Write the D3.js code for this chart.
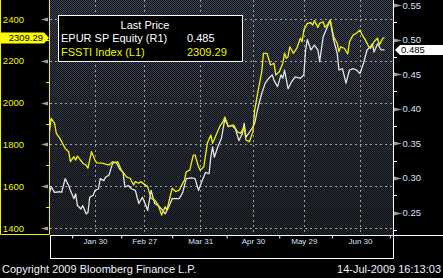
<!DOCTYPE html>
<html>
<head>
<meta charset="utf-8">
<script src="https://cdn.jsdelivr.net/npm/d3@7"></script>
<style>
  html, body { margin: 0; padding: 0; background: #000; }
  svg { display: block; font-family: 'Liberation Sans', Arial, sans-serif; }
</style>
</head>
<body>
<div id="chart"></div>
<script>
// FSSTI Index (left axis), daily-ish closes
const fsstiDates = [
  '01-04', '01-05', '01-07', '01-08', '01-10', '01-11', '01-13', '01-14', '01-15', '01-16',
  '01-18', '01-19', '01-20', '01-22', '01-23', '01-25', '01-26', '01-28', '01-30', '01-31',
  '02-03', '02-05', '02-07', '02-09', '02-11', '02-12', '02-14', '02-17', '02-19', '02-21',
  '02-22', '02-24', '02-25', '02-27', '03-01', '03-03', '03-05', '03-07', '03-09', '03-11',
  '03-12', '03-14', '03-15', '03-17', '03-19', '03-20', '03-22', '03-23', '03-25', '03-27',
  '03-28', '03-30', '03-31', '04-02', '04-04', '04-06', '04-07', '04-09', '04-11', '04-13',
  '04-14', '04-16', '04-19', '04-21', '04-23', '04-25', '04-26', '04-28', '04-30', '05-01',
  '05-03', '05-05', '05-06', '05-08', '05-10', '05-12', '05-13', '05-15', '05-17', '05-18',
  '05-19', '05-20', '05-21', '05-23', '05-25', '05-27', '05-28', '05-29', '05-31', '06-02',
  '06-03', '06-04', '06-06', '06-07', '06-09', '06-10', '06-12', '06-13', '06-15', '06-17',
  '06-18', '06-19', '06-21', '06-23', '06-24', '06-26', '06-28', '06-30', '07-01', '07-03',
  '07-05', '07-06', '07-08', '07-10', '07-11', '07-13', '07-14'
];
const fsstiValues = [
  1853, 1925, 1901, 1853, 1829, 1813, 1781, 1773, 1765, 1717,
  1741, 1725, 1744, 1722, 1710, 1701, 1686, 1765, 1725, 1712,
  1710, 1706, 1701, 1717, 1712, 1717, 1677, 1645, 1638, 1606,
  1622, 1614, 1622, 1610, 1598, 1542, 1534, 1510, 1462, 1502,
  1486, 1558, 1590, 1574, 1582, 1598, 1630, 1669, 1677, 1749,
  1749, 1693, 1677, 1693, 1805, 1845, 1805, 1845, 1885, 1909,
  1931, 1885, 1893, 1861, 1853, 1885, 1821, 1813, 1861, 1965,
  2060, 2148, 2236, 2236, 2180, 2188, 2132, 2148, 2188, 2236,
  2212, 2220, 2267, 2236, 2260, 2308, 2291, 2347, 2379, 2382,
  2371, 2392, 2360, 2379, 2387, 2360, 2379, 2395, 2315, 2284,
  2244, 2267, 2260, 2233, 2291, 2323, 2332, 2347, 2328, 2300,
  2267, 2260, 2291, 2308, 2276, 2308, 2309.29
];

// EPUR SP Equity (right axis)
const epurDates = [
  '01-04', '01-05', '01-07', '01-10', '01-11', '01-13', '01-15', '01-16', '01-18', '01-19',
  '01-20', '01-22', '01-23', '01-25', '01-26', '01-27', '01-29', '01-30', '02-01', '02-02',
  '02-04', '02-05', '02-07', '02-09', '02-11', '02-13', '02-15', '02-16', '02-18', '02-20',
  '02-22', '02-23', '02-24', '02-26', '02-28', '03-01', '03-03', '03-05', '03-07', '03-09',
  '03-11', '03-13', '03-15', '03-18', '03-19', '03-21', '03-23', '03-26', '03-28', '03-30',
  '04-01', '04-03', '04-05', '04-06', '04-07', '04-08', '04-10', '04-12', '04-14', '04-16',
  '04-18', '04-20', '04-22', '04-24', '04-25', '04-26', '04-28', '04-30', '05-01', '05-03',
  '05-05', '05-07', '05-09', '05-11', '05-12', '05-14', '05-16', '05-17', '05-18', '05-20',
  '05-22', '05-24', '05-27', '05-29', '05-30', '05-31', '06-02', '06-04', '06-06', '06-07',
  '06-09', '06-11', '06-13', '06-15', '06-17', '06-18', '06-20', '06-22', '06-24', '06-26',
  '06-28', '06-30', '07-02', '07-04', '07-06', '07-07', '07-08', '07-10', '07-12', '07-14'
];
const epurValues = [
  0.277, 0.287, 0.279, 0.280, 0.279, 0.299, 0.289, 0.282, 0.270, 0.277,
  0.260, 0.255, 0.260, 0.248, 0.250, 0.272, 0.275, 0.282, 0.284, 0.299,
  0.296, 0.301, 0.304, 0.321, 0.323, 0.313, 0.308, 0.287, 0.289, 0.284,
  0.282, 0.272, 0.263, 0.272, 0.260, 0.253, 0.282, 0.263, 0.260, 0.255,
  0.248, 0.258, 0.270, 0.270, 0.270, 0.279, 0.299, 0.300, 0.299, 0.282,
  0.296, 0.308, 0.306, 0.330, 0.345, 0.330, 0.345, 0.357, 0.385, 0.374,
  0.376, 0.371, 0.354, 0.364, 0.379, 0.359, 0.366, 0.374, 0.379, 0.403,
  0.422, 0.437, 0.444, 0.449, 0.441, 0.432, 0.449, 0.444, 0.456, 0.429,
  0.439, 0.446, 0.444, 0.449, 0.485, 0.500, 0.485, 0.492, 0.485, 0.468,
  0.504, 0.516, 0.528, 0.499, 0.480, 0.456, 0.458, 0.437, 0.456, 0.458,
  0.456, 0.451, 0.466, 0.485, 0.490, 0.494, 0.482, 0.494, 0.485, 0.485
];

const leftTicks = [1400, 1600, 1800, 2000, 2200, 2400];
const leftMinorTicks = [1500, 1700, 1900, 2100, 2300];
const rightTicks = [0.25, 0.30, 0.35, 0.40, 0.45, 0.50, 0.55];
const rightMinorTicks = [0.225, 0.275, 0.325, 0.375, 0.425, 0.475, 0.525];
const monthLabels = ['Jan 30', 'Feb 27', 'Mar 31', 'Apr 30', 'May 29', 'Jun 30'];
const monthLabelDates = ['01-30', '02-27', '03-31', '04-30', '05-29', '06-30'];
const monthTickDates = ['01-17', '02-14', '03-15', '04-15', '05-15', '06-14', '07-17'];

const legendTitle = 'Last Price';
const seriesNames = ['EPUR SP Equity (R1)', 'FSSTI Index (L1)'];
const lastLabels = ['0.485', '2309.29'];
const lastEpur = 0.485;
const lastFssti = 2309.29;
const footerLeft = 'Copyright 2009 Bloomberg Finance L.P.';
const footerRight = '14-Jul-2009 16:13:03';

// layout
const width = 443;
const height = 278;
const plot = { left: 50, right: 393, top: 0, bottom: 235 };
const yellow = '#f4f400';
const whiteLine = '#e6e6e6';
const axisText = '#d6e2ff';

const parseDay = d3.timeParse('%Y-%m-%d');
const day = s => parseDay(`2009-${s}`);

const x = d3
  .scaleTime()
  .domain([new Date(2009, 0, 4, 9), new Date(2009, 6, 18, 19)])
  .range([plot.left, plot.right]);
const yLeft = d3.scaleLinear().domain([1400, 2400]).range([228, 19]);
const yRight = d3.scaleLinear().domain([0.25, 0.55]).range([212.5, 5]);

const svg = d3
  .select('#chart')
  .append('svg')
  .attr('width', width)
  .attr('height', height);

svg.append('rect').attr('width', width).attr('height', height).attr('fill', '#000');

const defs = svg.append('defs');
const grad = defs
  .append('linearGradient')
  .attr('id', 'bg')
  .attr('x1', 0).attr('x2', 0).attr('y1', 0).attr('y2', 1);
grad.append('stop').attr('offset', '0%').attr('stop-color', '#3e485a');
grad.append('stop').attr('offset', '100%').attr('stop-color', '#262b33');

// checkerboard dither like the terminal screenshot
const pat = defs
  .append('pattern')
  .attr('id', 'dither')
  .attr('width', 2)
  .attr('height', 2)
  .attr('patternUnits', 'userSpaceOnUse');
pat.append('rect').attr('x', 0).attr('y', 0).attr('width', 1).attr('height', 1).attr('fill', '#000');
pat.append('rect').attr('x', 1).attr('y', 1).attr('width', 1).attr('height', 1).attr('fill', '#000');

defs
  .append('clipPath')
  .attr('id', 'clip')
  .append('rect')
  .attr('x', plot.left)
  .attr('y', plot.top)
  .attr('width', plot.right - plot.left)
  .attr('height', plot.bottom - plot.top);

// plot background
svg
  .append('rect')
  .attr('x', plot.left)
  .attr('y', plot.top)
  .attr('width', plot.right - plot.left)
  .attr('height', plot.bottom - plot.top)
  .attr('fill', 'url(#bg)');
svg
  .append('rect')
  .attr('x', plot.left)
  .attr('y', plot.top)
  .attr('width', plot.right - plot.left)
  .attr('height', plot.bottom - plot.top)
  .attr('fill', 'url(#dither)')
  .attr('opacity', 0.75);

// grid
const grid = svg.append('g').attr('stroke', '#a0a0a0').attr('stroke-dasharray', '2,3');
grid
  .selectAll('line.h')
  .data(leftTicks)
  .enter()
  .append('line')
  .attr('x1', plot.left)
  .attr('x2', plot.right)
  .attr('y1', d => Math.round(yLeft(d)) + 0.5)
  .attr('y2', d => Math.round(yLeft(d)) + 0.5);
grid
  .selectAll('line.v')
  .data(monthLabelDates)
  .enter()
  .append('line')
  .attr('x1', d => Math.round(x(day(d))) + 0.5)
  .attr('x2', d => Math.round(x(day(d))) + 0.5)
  .attr('y1', plot.top)
  .attr('y2', plot.bottom);

// series lines
const lines = svg.append('g').attr('clip-path', 'url(#clip)');
const epurLine = d3
  .line()
  .x((d, i) => x(day(epurDates[i])))
  .y(d => yRight(d));
const fsstiLine = d3
  .line()
  .x((d, i) => x(day(fsstiDates[i])))
  .y(d => yLeft(d));
lines
  .append('path')
  .datum(epurValues)
  .attr('d', epurLine)
  .attr('fill', 'none')
  .attr('stroke', whiteLine)
  .attr('stroke-width', 1.3)
  .attr('stroke-linejoin', 'round');
lines
  .append('path')
  .datum(fsstiValues)
  .attr('d', fsstiLine)
  .attr('fill', 'none')
  .attr('stroke', yellow)
  .attr('stroke-width', 1.3)
  .attr('stroke-linejoin', 'round');

// left axis panel, framed in yellow
svg
  .append('path')
  .attr('d', `M0.5,0V${plot.bottom - 0.5}H${plot.left - 0.5}V0`)
  .attr('fill', 'none')
  .attr('stroke', yellow);

const leftAxis = svg
  .append('g')
  .attr('transform', 'translate(24,0)')
  .call(d3.axisLeft(yLeft).tickValues(leftTicks).tickSize(0).tickPadding(0).tickFormat(d3.format('d')));
leftAxis.select('.domain').remove();
leftAxis
  .selectAll('text')
  .attr('fill', yellow)
  .attr('font-size', 9.5)
  .attr('font-family', "'Liberation Sans', Arial, sans-serif");

// grey arrow marks next to major ticks
svg
  .append('g')
  .selectAll('path')
  .data(leftTicks)
  .enter()
  .append('path')
  .attr('d', d => {
    const yy = Math.round(yLeft(d)) + 0.5;
    return `M41,${yy}L48,${yy - 2}L48,${yy + 2}Z`;
  })
  .attr('fill', '#9c9c9c');

svg
  .append('g')
  .selectAll('line')
  .data(leftMinorTicks)
  .enter()
  .append('line')
  .attr('x1', plot.left - 4)
  .attr('x2', plot.left)
  .attr('y1', d => Math.round(yLeft(d)) + 0.5)
  .attr('y2', d => Math.round(yLeft(d)) + 0.5)
  .attr('stroke', yellow);

// right axis
const rightAxis = svg
  .append('g')
  .attr('transform', `translate(${plot.right + 0.5},0)`)
  .call(d3.axisRight(yRight).tickValues(rightTicks).tickSize(0).tickPadding(9).tickFormat(d3.format('.2f')));
rightAxis.select('.domain').attr('d', `M0,0V${plot.bottom}`).attr('stroke', '#fff');
rightAxis
  .selectAll('text')
  .attr('fill', axisText)
  .attr('font-size', 9.5)
  .attr('font-family', "'Liberation Sans', Arial, sans-serif");

svg
  .append('g')
  .selectAll('path')
  .data(rightTicks)
  .enter()
  .append('path')
  .attr('d', d => {
    const yy = Math.round(yRight(d)) + 0.5;
    return `M${plot.right + 1},${yy - 2}L${plot.right + 9},${yy}L${plot.right + 1},${yy + 2}Z`;
  })
  .attr('fill', '#9c9c9c');

svg
  .append('g')
  .selectAll('line')
  .data(rightMinorTicks)
  .enter()
  .append('line')
  .attr('x1', plot.right)
  .attr('x2', plot.right + 4)
  .attr('y1', d => Math.round(yRight(d)) + 0.5)
  .attr('y2', d => Math.round(yRight(d)) + 0.5)
  .attr('stroke', '#fff');

// bottom date axis in a white box
svg
  .append('rect')
  .attr('x', plot.left + 0.5)
  .attr('y', plot.bottom + 0.5)
  .attr('width', plot.right - plot.left)
  .attr('height', 23)
  .attr('fill', '#000')
  .attr('stroke', '#fff');
svg
  .append('line')
  .attr('x1', plot.right)
  .attr('x2', width)
  .attr('y1', plot.bottom + 0.5)
  .attr('y2', plot.bottom + 0.5)
  .attr('stroke', '#fff');

const bottomTicks = svg
  .append('g')
  .attr('transform', `translate(0,${plot.bottom + 0.5})`)
  .call(d3.axisBottom(x).tickValues(monthTickDates.map(day)).tickSize(3).tickFormat(''));
bottomTicks.select('.domain').remove();
bottomTicks.selectAll('line').attr('stroke', '#fff');

const bottomLabels = svg
  .append('g')
  .attr('transform', `translate(0,${plot.bottom + 1})`)
  .call(
    d3
      .axisBottom(x)
      .tickValues(monthLabelDates.map(day))
      .tickSize(0)
      .tickPadding(2)
      .tickFormat((d, i) => monthLabels[i])
  );
bottomLabels.select('.domain').remove();
bottomLabels
  .selectAll('text')
  .attr('fill', axisText)
  .attr('font-size', 8)
  .attr('font-family', "'Liberation Sans', Arial, sans-serif");

// last value badges
const yl = yLeft(lastFssti);
svg
  .append('path')
  .attr('d', `M0,${yl - 5.5}H44L49,${yl}L44,${yl + 5.5}H0Z`)
  .attr('fill', '#ffff00');
svg
  .append('text')
  .attr('x', 43)
  .attr('y', yl + 3.5)
  .attr('text-anchor', 'end')
  .attr('font-size', 9.5)
  .attr('fill', '#000')
  .text(lastLabels[1]);

const yr = yRight(lastEpur);
svg
  .append('path')
  .attr('d', `M${plot.right + 2},${yr}L${plot.right + 7},${yr - 5}H${width}V${yr + 5}H${plot.right + 7}Z`)
  .attr('fill', '#fff');
svg
  .append('text')
  .attr('x', plot.right + 8)
  .attr('y', yr + 3.5)
  .attr('font-size', 9.5)
  .attr('fill', '#000')
  .text(lastLabels[0]);

// legend
const legend = svg.append('g').attr('transform', 'translate(58,15)');
legend
  .append('rect')
  .attr('x', 0.5)
  .attr('y', 0.5)
  .attr('width', 184)
  .attr('height', 46)
  .attr('fill', '#000')
  .attr('stroke', '#fff');
legend
  .append('text')
  .attr('x', 87)
  .attr('y', 13.5)
  .attr('text-anchor', 'middle')
  .attr('font-size', 11)
  .attr('fill', '#fff')
  .text(legendTitle);
const legendColors = ['#fff', yellow];
seriesNames.forEach((name, i) => {
  legend
    .append('text')
    .attr('x', 3)
    .attr('y', 27 + i * 13.5)
    .attr('font-size', 11)
    .attr('fill', legendColors[i])
    .text(name);
  legend
    .append('text')
    .attr('x', 129)
    .attr('y', 27 + i * 13.5)
    .attr('font-size', 11)
    .attr('fill', legendColors[i])
    .text(lastLabels[i]);
});

// footer
svg
  .append('text')
  .attr('x', 2)
  .attr('y', 273)
  .attr('font-size', 11)
  .attr('fill', '#f0f0ff')
  .text(footerLeft);
svg
  .append('text')
  .attr('x', width - 2)
  .attr('y', 273)
  .attr('text-anchor', 'end')
  .attr('font-size', 11)
  .attr('fill', '#f0f0ff')
  .text(footerRight);
</script>
</body>
</html>
